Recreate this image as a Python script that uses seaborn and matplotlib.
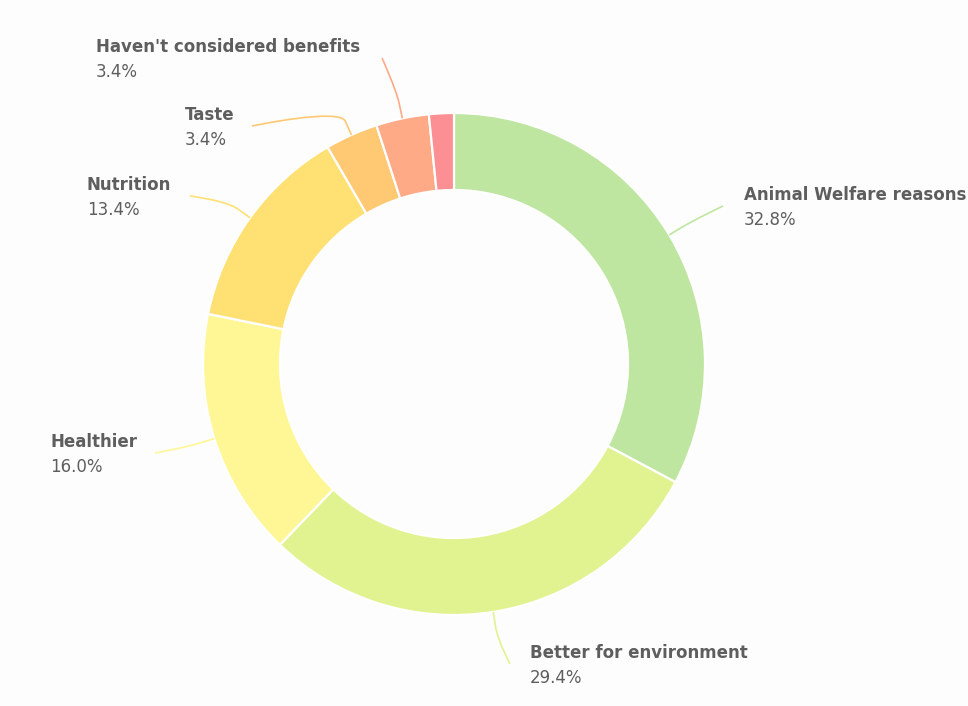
import matplotlib
matplotlib.use("Agg")
import matplotlib.pyplot as plt
import seaborn as sns
import numpy as np
from matplotlib.path import Path
from matplotlib.patches import PathPatch

# ---- data ----
categories = ["Animal Welfare reasons", "Better for environment", "Healthier",
              "Nutrition", "Taste", "Haven't considered benefits", "Other"]
values = [32.8, 29.4, 16.0, 13.4, 3.4, 3.4, 1.6]
colors = ["#bee6a0", "#e1f391", "#fff796", "#ffe073", "#ffc873", "#ffaa87", "#fc8f93"]

sns.set_theme(style="white")
plt.rcParams['font.family'] = ['DejaVu Sans']

W, H = 968, 706
BG = "#fdfdfd"
fig = plt.figure(figsize=(W / 100, H / 100), dpi=100, facecolor=BG)
ax = fig.add_axes([0, 0, 1, 1])
ax.set_facecolor(BG)

cx, cy = 454, H - 364
R = 251
R_in = 174
palette = sns.color_palette(colors)
wedges, _ = ax.pie(values, colors=palette, startangle=90, counterclock=False,
                   radius=R, center=(cx, cy), frame=True,
                   wedgeprops=dict(width=R - R_in, edgecolor="white", linewidth=1.6))
ax.set_xlim(0, W)
ax.set_ylim(0, H)
ax.set_aspect("equal")
ax.axis("off")

# label layout in screen pixels (y down): text x, name baseline y, connector end x
layout = {
    0: (744, 200, 723),
    1: (530, 658, 510),
    2: (50, 447, 155),
    3: (87, 190, 190),
    4: (185, 120, 252),
    5: (96, 52, 382),
}
TXT = "#5e5e5e"
FS = 12
for i, w in enumerate(wedges):
    if i not in layout:
        continue
    tx, ty, lx = layout[i]
    mid = np.deg2rad((w.theta1 + w.theta2) / 2)
    d = np.array([np.cos(mid), np.sin(mid)])
    E = np.array([cx, cy]) + R * d
    B = E + 15 * d
    C2 = 2 * B - E
    L = np.array([lx, H - (ty + 6)])
    verts = [L, L, C2, B, E]
    codes = [Path.MOVETO, Path.CURVE4, Path.CURVE4, Path.CURVE4, Path.LINETO]
    ax.add_patch(PathPatch(Path(verts, codes), facecolor="none",
                           edgecolor=colors[i], linewidth=1.2))
    ax.text(tx, H - ty, categories[i], fontsize=FS, fontweight="bold",
            color=TXT, ha="left", va="baseline")
    ax.text(tx, H - ty - 25, f"{values[i]:.1f}%", fontsize=FS,
            color=TXT, ha="left", va="baseline")

fig.savefig("out.png", dpi=100, facecolor=BG)
